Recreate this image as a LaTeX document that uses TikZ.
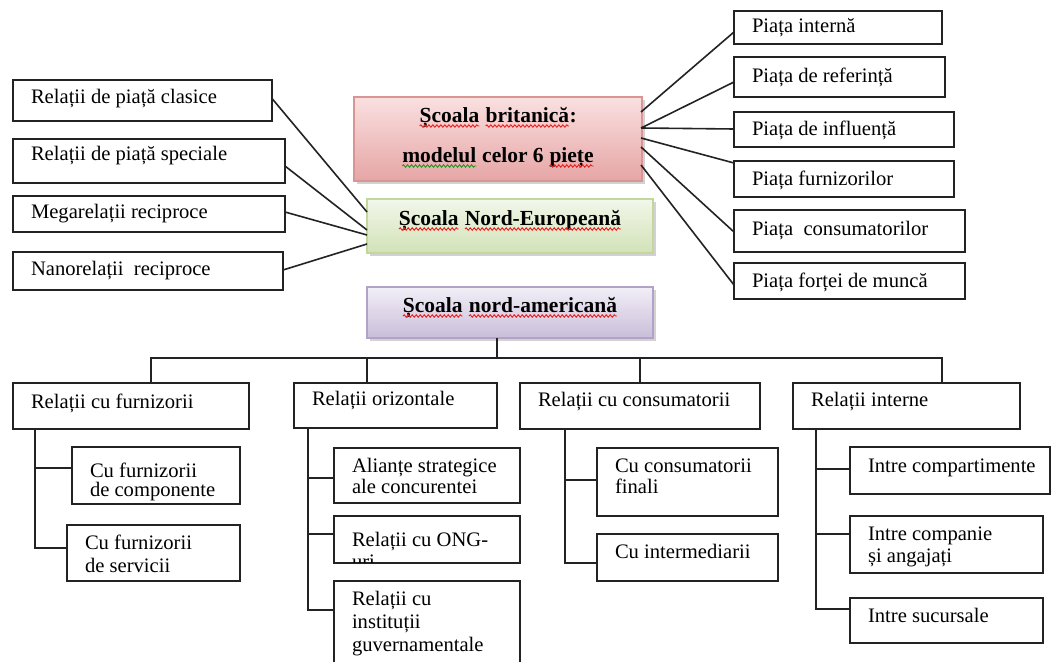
\documentclass[tikz,border=0pt]{standalone}
\usepackage{fontspec}
\setmainfont{Liberation Serif}
\usetikzlibrary{calc,shadows,decorations.pathmorphing}
\definecolor{spellred}{RGB}{235,30,30}
\definecolor{spellgreen}{RGB}{30,150,30}
\definecolor{edge}{RGB}{35,35,35}
\definecolor{redtop}{RGB}{250,224,224}
\definecolor{redbot}{RGB}{230,165,165}
\definecolor{redline}{RGB}{217,149,148}
\definecolor{greentop}{RGB}{242,247,234}
\definecolor{greenbot}{RGB}{210,226,183}
\definecolor{greenline}{RGB}{195,214,155}
\definecolor{purpletop}{RGB}{242,239,247}
\definecolor{purplebot}{RGB}{201,189,217}
\definecolor{purpleline}{RGB}{178,162,199}
\tikzset{
  box/.style={draw=edge,line width=1.7pt,fill=white,inner sep=0pt,outer sep=0pt},
  txt/.style={inner sep=0pt,outer sep=0pt,align=left,text=black},
  htxt/.style={inner sep=0pt,outer sep=0pt,align=center,text=black},
  conn/.style={draw=edge,line width=1.6pt},
  headbox/.style={line width=1.6pt,inner sep=0pt,outer sep=0pt,
    drop shadow={shadow xshift=2.5pt,shadow yshift=-2.5pt,opacity=0.35}},
  redbox/.style={headbox,draw=redline,top color=redtop,bottom color=redbot},
  greenbox/.style={headbox,draw=greenline,top color=greentop,bottom color=greenbot},
  purplebox/.style={headbox,draw=purpleline,top color=purpletop,bottom color=purplebot},
  wavy/.style={line width=0.9pt,decorate,decoration={snake,amplitude=1.2pt,segment length=4pt}},
}
\newcommand\spellmark[2]{\tikz[baseline=(wv.base)]{\node[inner sep=0pt,outer sep=0pt] (wv) {#2};
  \draw[wavy,#1] ([yshift=-4pt]wv.base west) -- ([yshift=-4pt]wv.base east);}}
\newcommand\rw[1]{\spellmark{spellred}{#1}}
\newcommand\gw[1]{\spellmark{spellgreen}{#1}}
% #1 line spacing, #2 name, #3 x1, #4 y1, #5 x2, #6 y2, #7 baseline offset, #8 text
\newcommand\bx[8][21]{%
  \node[box,minimum width={#5-#3},minimum height={#6-#4},anchor=north west] (#2) at (#3,#4) {};
  \node[txt,font=\fontsize{20.6}{#1}\selectfont,anchor=north west] (#2-t) at (#3+18,#4+#7-15) {\rule{0pt}{15pt}#8};}
\begin{document}
\begin{tikzpicture}[x=1pt,y=-1pt]
\useasboundingbox[fill=white] (0,0) rectangle (1051,661);

% ---- heading boxes
\node[redbox,minimum width=288,minimum height=84,anchor=north west] (brit) at (354,97) {};
\node[htxt,anchor=north,font=\bfseries\fontsize{21.5}{40}\selectfont] (brit-t) at (498,122-16)
  {\rule{0pt}{16pt}\rw{Școala} \rw{britanică}:\\\gw{modelul} celor 6 \rw{piețe}};
\node[greenbox,minimum width=286,minimum height=54,anchor=north west] (ne) at (367,199) {};
\node[htxt,anchor=base,font=\bfseries\fontsize{21.5}{24}\selectfont] (ne-t) at (510,225)
  {\rw{Școala} \rw{Nord-Europeană}};
\node[purplebox,minimum width=286,minimum height=51,anchor=north west] (na) at (367,287) {};
\node[htxt,anchor=base,font=\bfseries\fontsize{21.5}{24}\selectfont] (na-t) at (510,312)
  {\rw{Școala} \rw{nord-americană}};

% ---- left boxes
\bx{l1}{13}{80}{272}{121}{23}{Relații de piață clasice}
\bx{l2}{13}{139}{285}{183}{21}{Relații de piață speciale}
\bx{l3}{13}{196}{285}{232}{22}{Megarelații reciproce}
\bx{l4}{13}{252}{283}{290}{23}{Nanorelații\ \ reciproce}

% ---- right boxes
\bx{r1}{734}{11}{942}{44}{22}{Piața internă}
\bx{r2}{734}{57}{945}{97}{25}{Piața de referință}
\bx{r3}{734}{112}{954}{147}{23}{Piața de influență}
\bx{r4}{734}{161}{954}{197}{24}{Piața furnizorilor}
\bx{r5}{734}{210}{965}{252}{25}{Piața\ \ consumatorilor}
\bx{r6}{734}{263}{965}{299}{24}{Piața forței de muncă}

% ---- level 1 (nord-americana)
\bx{rf}{13}{383}{249}{429}{25}{Relații cu furnizorii}
\bx{ro}{294}{383}{497}{428}{22}{Relații orizontale}
\bx{rc}{520}{383}{760}{429}{23}{Relații cu consumatorii}
\bx{ri}{793}{383}{1020}{429}{23}{Relații interne}

% ---- level 2
\bx[19]{c1}{72}{447}{240}{504}{30}{Cu furnizorii\\de componente}
\bx[23]{c2}{67}{525}{240}{581}{24}{Cu furnizorii\\de servicii}
\bx[21]{o1}{334}{448}{520}{503}{24}{Alianțe strategice\\ale concurentei}
\node[box,minimum width=186,minimum height=47,anchor=north west] (o2) at (334,516) {};
\begin{scope}
  \clip ($(o2.north west)+(1,1)$) rectangle ($(o2.south east)+(-1,-1)$);
  \node[txt,font=\fontsize{20.6}{22}\selectfont,anchor=north west] (o2-t) at (352,516+30-15)
    {\rule{0pt}{15pt}Relații cu ONG-\\uri};
\end{scope}
\bx[23]{o3}{334}{581}{520}{672}{24}{Relații cu\\instituții\\guvernamentale}
\bx[21]{k1}{597}{448}{778}{516}{24}{Cu consumatorii\\finali}
\bx{k2}{597}{534}{778}{581}{24}{Cu intermediarii}
\bx{i1}{850}{447}{1050}{494}{25}{Intre compartimente}
\bx[22]{i2}{850}{516}{1043}{573}{24}{Intre companie\\și angajați}
\bx{i3}{850}{598}{1043}{643}{24}{Intre sucursale}

% ---- connectors: left boxes to Nord-European school
\draw[conn] ($(l1.east)+(0,-2)$) -- ($(ne.north west)+(0,13)$);
\draw[conn] ($(l2.east)+(0,5)$) -- ($(ne.north west)+(0,31)$);
\draw[conn] ($(l3.east)+(0,-2)$) -- ($(ne.north west)+(0,36)$);
\draw[conn] ($(l4.east)+(0,-1)$) -- ($(ne.north west)+(0,45)$);

% ---- connectors: British school to markets
\draw[conn] ($(brit.north east)+(-1,15)$) -- ($(r1.north west)+(0,21)$);
\draw[conn] ($(brit.north east)+(-1,31)$) -- ($(r2.north west)+(0,25)$);
\draw[conn] ($(brit.north east)+(-1,31)$) -- ($(r3.north west)+(0,17)$);
\draw[conn] ($(brit.north east)+(-1,41)$) -- ($(r4.north west)+(0,2)$);
\draw[conn] ($(brit.north east)+(-1,50)$) -- ($(r5.north west)+(0,22)$);
\draw[conn] ($(brit.north east)+(-1,68)$) -- ($(r6.north west)+(0,22)$);

% ---- tree
\draw[conn] ($(na.south west)+(130,0)$) -- ++(0,20);
\draw[conn] ($(rf.north west)+(138,0)$) -- ++(0,-25) -| ($(ri.north west)+(149,0)$);
\draw[conn] ($(ro.north west)+(73,0)$) -- ++(0,-25);
\draw[conn] ($(rc.north west)+(120,0)$) -- ++(0,-25);

\draw[conn] ($(rf.south west)+(22,0)$) |- ($(c1.north west)+(0,21)$);
\draw[conn] ($(rf.south west)+(22,0)$) |- ($(c2.north west)+(0,23)$);

\draw[conn] ($(ro.south west)+(14,0)$) |- ($(o1.north west)+(0,30)$);
\draw[conn] ($(ro.south west)+(14,0)$) |- ($(o2.north west)+(0,18)$);
\draw[conn] ($(ro.south west)+(14,0)$) |- ($(o3.north west)+(0,29)$);

\draw[conn] ($(rc.south west)+(45,0)$) |- ($(k1.north west)+(0,32)$);
\draw[conn] ($(rc.south west)+(45,0)$) |- ($(k2.north west)+(0,29)$);

\draw[conn] ($(ri.south west)+(23,0)$) |- ($(i1.north west)+(0,22)$);
\draw[conn] ($(ri.south west)+(23,0)$) |- ($(i2.north west)+(0,18)$);
\draw[conn] ($(ri.south west)+(23,0)$) |- ($(i3.north west)+(0,11)$);
\end{tikzpicture}
\end{document}
